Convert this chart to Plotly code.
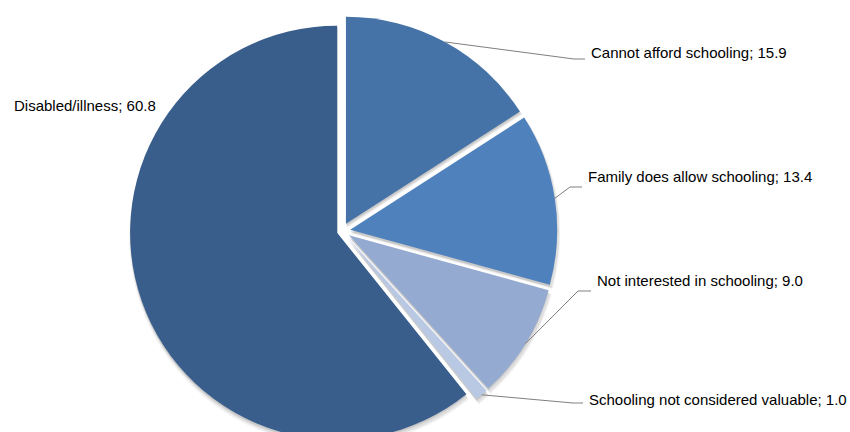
import math
import plotly.graph_objects as go

# Reasons for not attending school (percent of respondents)
categories = [
    "Cannot afford schooling",
    "Family does allow schooling",
    "Not interested in schooling",
    "Schooling not considered valuable",
    "Disabled/illness",
]
shares = [15.9, 13.4, 9.0, 1.0, 60.8]

# Styling
colors = ["#4572A7", "#4F81BD", "#95AAD1", "#B9C9E4", "#3A5E8C"]
pulls = [0.04, 0.04, 0.04, 0.04, 0.025]
FONT = "Liberation Sans, Arial, sans-serif"

# Geometry (pixels)
W, H = 850, 456
CX, CY = 342, 231
R = 207
half = R * (1 + max(pulls))


def domain(dx=0.0, dy=0.0, grow=0.0):
    h = half + grow
    return dict(
        x=[(CX + dx - h) / W, (CX + dx + h) / W],
        y=[(H - (CY + dy + h)) / H, (H - (CY + dy - h)) / H],
    )


fig = go.Figure()

# soft drop shadow built from a few translucent layers
for dx, dy, grow, alpha in [(1, 4, 2, 0.05), (1, 3, 1, 0.08), (0, 2, 0, 0.10)]:
    fig.add_trace(go.Pie(
        values=shares, labels=categories, sort=False, direction="clockwise",
        rotation=0, pull=pulls, textinfo="none", hoverinfo="skip",
        marker=dict(colors=[f"rgba(0,0,0,{alpha})"] * len(shares), line=dict(width=0)),
        domain=domain(dx, dy, grow), showlegend=False,
    ))

fig.add_trace(go.Pie(
    values=shares, labels=categories, sort=False, direction="clockwise",
    rotation=0, pull=pulls, textinfo="none",
    marker=dict(colors=colors, line=dict(width=0)),
    domain=domain(), showlegend=False,
))

# label positions: (text left x, text centre y, elbow x, elbow y)
label_pos = [
    (589, 53, 574, 59),
    (586, 177, 570, 187),
    (595, 280, 578, 291),
    (587, 399, 573, 403),
    (12, 106, None, None),
]


def px(x):
    return x / W


def py(y):
    return 1 - y / H


total = sum(shares)
cum = 0.0
annotations = []
shapes = []
for cat, val, pull, (tx, ty, ex, ey) in zip(categories, shares, pulls, label_pos):
    mid = (cum + val / 2) / total * 2 * math.pi
    cum += val
    annotations.append(dict(
        x=px(tx), y=py(ty), xref="paper", yref="paper", xanchor="left",
        yanchor="middle", showarrow=False, text=f"{cat}; {val:.1f}",
        font=dict(family=FONT, size=15, color="#000000"),
    ))
    if ex is None:
        continue
    sx = CX + (1 + pull) * R * math.sin(mid)
    sy = CY - (1 + pull) * R * math.cos(mid)
    path = (f"M {px(sx)} {py(sy)} L {px(ex)} {py(ey)} "
            f"L {px(tx - 4)} {py(ey)}")
    shapes.append(dict(type="path", path=path, xref="paper", yref="paper",
                       line=dict(color="#7f7f7f", width=1)))

fig.update_layout(
    width=W, height=H,
    margin=dict(l=0, r=0, t=0, b=0),
    paper_bgcolor="#ffffff", plot_bgcolor="#ffffff",
    annotations=annotations, shapes=shapes,
)

fig.write_html(
    "out.html",
    post_script="document.body.style.margin='0';"
                "document.body.style.overflow='hidden';"
                "document.documentElement.style.overflow='hidden';",
)
